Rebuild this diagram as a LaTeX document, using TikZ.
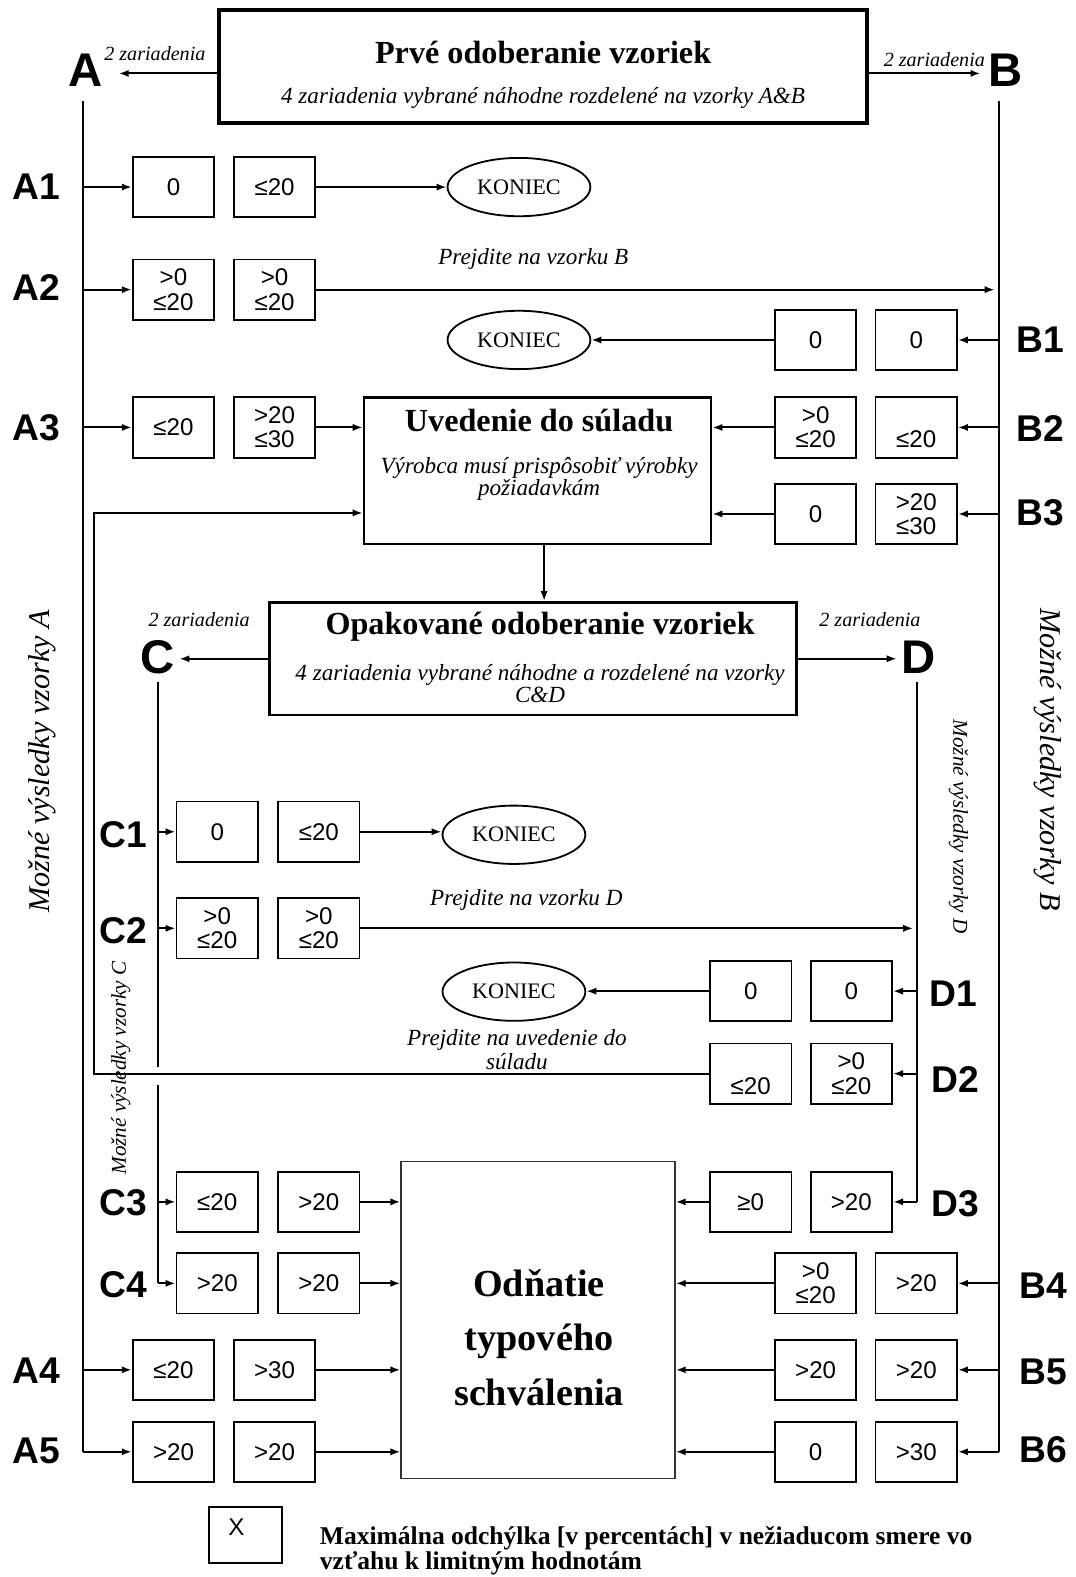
\documentclass[tikz,border=0pt]{standalone}
\usepackage{fontspec}
\setmainfont{Liberation Serif}
\setsansfont{Liberation Sans}
\usetikzlibrary{arrows.meta, shapes.geometric}

\begin{document}
\begin{tikzpicture}[
    x=0.5pt, y=-0.5pt,
    >={Latex[length=5pt, width=3.6pt]},
    conn/.style={line width=1pt},
    arr/.style={line width=1pt, ->},
    valbox/.style={draw, line width=0.9pt, minimum width=40.5pt, minimum height=30pt,
        inner sep=0pt, align=center, font=\sffamily\fontsize{12}{12}\selectfont},
    endnode/.style={ellipse, draw, line width=0.9pt, minimum width=71pt, minimum height=29pt,
        inner sep=0pt, font=\fontsize{11}{11}\selectfont},
    rowlbl/.style={font=\sffamily\bfseries\fontsize{18.5}{18.5}\selectfont},
    grplbl/.style={font=\sffamily\bfseries\fontsize{23.5}{23.5}\selectfont, inner sep=2pt},
    ttl/.style={font=\bfseries\fontsize{16}{16}\selectfont},
    sub/.style={font=\itshape\fontsize{11.5}{13}\selectfont, align=center},
    note/.style={font=\itshape\fontsize{10}{10}\selectfont},
    side/.style={font=\itshape\fontsize{15}{15}\selectfont}
]
\useasboundingbox (0,0) rectangle (1069,1568);

% Stages
\node[draw, line width=2pt, minimum width=322pt, minimum height=56pt] (first) at (540,66) {};
\node[ttl] at (540,52) {Prvé odoberanie vzoriek};
\node[sub] at (540,97) {4 zariadenia vybrané náhodne rozdelené na vzorky A\&B};

\node[draw, line width=1.3pt, minimum width=172.5pt, minimum height=73pt] (adj) at (534.5,468) {};
\node[ttl] at (536,418) {Uvedenie do súladu};
\node[sub] at (536,476) {Výrobca musí prispôsobiť výrobky\\[-2pt]požiadavkám};

\node[draw, line width=1.3pt, minimum width=262pt, minimum height=56pt] (repeat) at (530,655) {};
\node[ttl] at (537,623) {Opakované odoberanie vzoriek};
\node[sub] at (537,680) {4 zariadenia vybrané náhodne a rozdelené na vzorky\\[-2pt]C\&D};

\node[draw, line width=0.8pt, draw=black!80, minimum width=136pt, minimum height=157.5pt] (withdraw) at (535,1312.5) {};
\node[font=\bfseries\fontsize{19}{27}\selectfont, align=center] at (536,1330) {Odňatie\\typového\\schválenia};

% Groups A, B, C, D
\node[grplbl] (A) at (85,70) {A};
\node[grplbl] (B) at (1000,70) {B};
\node[grplbl] (C) at (157,653) {C};
\node[grplbl] (D) at (913,653) {D};
\coordinate (Aarr) at (118,73);
\coordinate (Barr) at (975,73);
\coordinate (Atop) at (83,100);
\coordinate (Btop) at (993,100);
\coordinate (Ctop) at (157,678);
\coordinate (Dtop) at (912,678);
\coordinate (loop) at (93,510);
\coordinate (down) at (541,0);

\draw[arr] (first.west |- Aarr) -- (Aarr);
\draw[arr] (first.east |- Barr) -- (Barr);
\draw[arr] (repeat.west) -- (repeat.west -| C.east);
\draw[arr] (repeat.east) -- (repeat.east -| D.west);
\draw[arr] (down |- adj.south) -- (down |- repeat.north);
\node[note] at (154,53) {2 zariadenia};
\node[note] at (929,59) {2 zariadenia};
\node[note] at (198,616) {2 zariadenia};
\node[note] at (865,616) {2 zariadenia};

% Value boxes
\foreach \row/\yy/\p/\q in {A1/186/0/{≤20}, A2/288/{>0\\≤20}/{>0\\≤20}, A3/425/{≤20}/{>20\\≤30},
    A4/1362/{≤20}/{>30}, A5/1443.5/{>20}/{>20}}{
  \node[valbox] (\row-a) at (172.5,\yy) {\p};
  \node[valbox] (\row-b) at (273,\yy) {\q};
}
\foreach \row/\yy/\p/\q in {B1/338/0/0, B2/425/{>0\\≤20}/{\strut\\≤20}, B3/511/0/{>20\\≤30},
    B4/1276/{>0\\≤20}/{>20}, B5/1362/{>20}/{>20}, B6/1443.5/0/{>30}}{
  \node[valbox] (\row-a) at (811,\yy) {\p};
  \node[valbox] (\row-b) at (911,\yy) {\q};
}
\foreach \row/\yy/\p/\q in {C1/827/0/{≤20}, C2/923/{>0\\≤20}/{>0\\≤20}, C3/1195/{≤20}/{>20},
    C4/1276/{>20}/{>20}}{
  \node[valbox] (\row-a) at (216,\yy) {\p};
  \node[valbox] (\row-b) at (317,\yy) {\q};
}
\foreach \row/\yy/\p/\q in {D1/985.5/0/0, D2/1067.5/{\strut\\≤20}/{>0\\≤20}, D3/1195/{≥0}/{>20}}{
  \node[valbox] (\row-a) at (746.5,\yy) {\p};
  \node[valbox] (\row-b) at (846.5,\yy) {\q};
}

% Row labels
\foreach \row/\xx/\yy in {A1/36/186, A2/36/286, A3/36/425, A4/36/1363, A5/36/1443,
    B1/1034/338, B2/1034/426, B3/1034/510, B4/1037/1278, B5/1037/1364, B6/1037/1441,
    C1/123/830, C2/123/925, C3/123/1196, C4/123/1277,
    D1/948/988, D2/950/1073, D3/950/1197}
  \node[rowlbl] (lbl\row) at (\xx,\yy) {\row};

% End nodes
\node[endnode] (endA) at (516,186) {KONIEC};
\node[endnode] (endB) at (516,338) {KONIEC};
\node[endnode] (endC) at (511,830) {KONIEC};
\node[endnode] (endD) at (511,986) {KONIEC};

% Branches of A
\draw[conn] (Atop) -- (Atop |- A5-a.west);
\foreach \row in {A1, A2, A3, A4}
  \draw[arr] (Atop |- \row-a.west) -- (\row-a.west);
\draw[arr] (Atop |- A5-a.west) -- (A5-a.west);
\draw[arr] (A1-b.east) -- (A1-b.east -| endA.west);
\draw[arr] (A2-b.east) -- ([xshift=-2pt]A2-b.east -| Btop)
    node[sub, pos=0.32, above=6pt] {Prejdite na vzorku B};
\draw[arr] (A3-b.east) -- (A3-b.east -| adj.west);
\foreach \row in {A4, A5}
  \draw[arr] (\row-b.east) -- (\row-b.east -| withdraw.west);

% Branches of B
\draw[conn] (Btop) -- (Btop |- B6-b.east);
\foreach \row in {B1, B2, B3, B4, B5, B6}
  \draw[arr] (Btop |- \row-b.east) -- (\row-b.east);
\draw[arr] (B1-a.west) -- (B1-a.west -| endB.east);
\foreach \row in {B2, B3}
  \draw[arr] (\row-a.west) -- (\row-a.west -| adj.east);
\foreach \row in {B4, B5, B6}
  \draw[arr] (\row-a.west) -- (\row-a.west -| withdraw.east);

% Branches of C
\draw[conn] (Ctop) -- (157,1061);
\draw[conn] (157,1079) -- (Ctop |- C4-a.west);
\foreach \row in {C1, C2, C3, C4}
  \draw[arr] (Ctop |- \row-a.west) -- (\row-a.west);
\draw[arr] (C1-b.east) -- (C1-b.east -| endC.west);
\draw[arr] (C2-b.east) -- ([xshift=-2pt]C2-b.east -| Dtop)
    node[sub, pos=0.3, above=5pt] {Prejdite na vzorku D};
\foreach \row in {C3, C4}
  \draw[arr] (\row-b.east) -- (\row-b.east -| withdraw.west);

% Branches of D
\draw[conn] (Dtop) -- (Dtop |- D3-b.east);
\foreach \row in {D1, D2, D3}
  \draw[arr] (Dtop |- \row-b.east) -- (\row-b.east);
\draw[arr] (D1-a.west) -- (D1-a.west -| endD.east);
\draw[arr] (D3-a.west) -- (D3-a.west -| withdraw.east);

% Back to adjustment
\draw[arr] (D2-a.west) -- (D2-a.west -| loop) -- (loop) -- (loop -| adj.west);
\node[sub] at (514,1044) {Prejdite na uvedenie do\\[-1pt]súladu};

% Side texts
\node[side, rotate=90] at (42,757) {Možné výsledky vzorky A};
\node[side, rotate=-90] at (1042,755) {Možné výsledky vzorky B};
\node[side, font=\itshape\fontsize{10.5}{10.5}\selectfont, rotate=90] at (120,1062) {Možné výsledky vzorky C};
\node[side, font=\itshape\fontsize{10.5}{10.5}\selectfont, rotate=-90] at (953,822) {Možné výsledky vzorky D};

% Legend
\node[draw, line width=0.9pt, minimum width=36pt, minimum height=28pt] (legend) at (244,1526) {};
\node[font=\sffamily\fontsize{12}{12}\selectfont] at (235,1518) {X};
\node[font=\bfseries\fontsize{12.7}{11.5}\selectfont, align=left, anchor=west] at (311,1542)
    {Maximálna odchýlka [v percentách] v nežiaducom smere vo\\vzťahu k limitným hodnotám};

\end{tikzpicture}
\end{document}
